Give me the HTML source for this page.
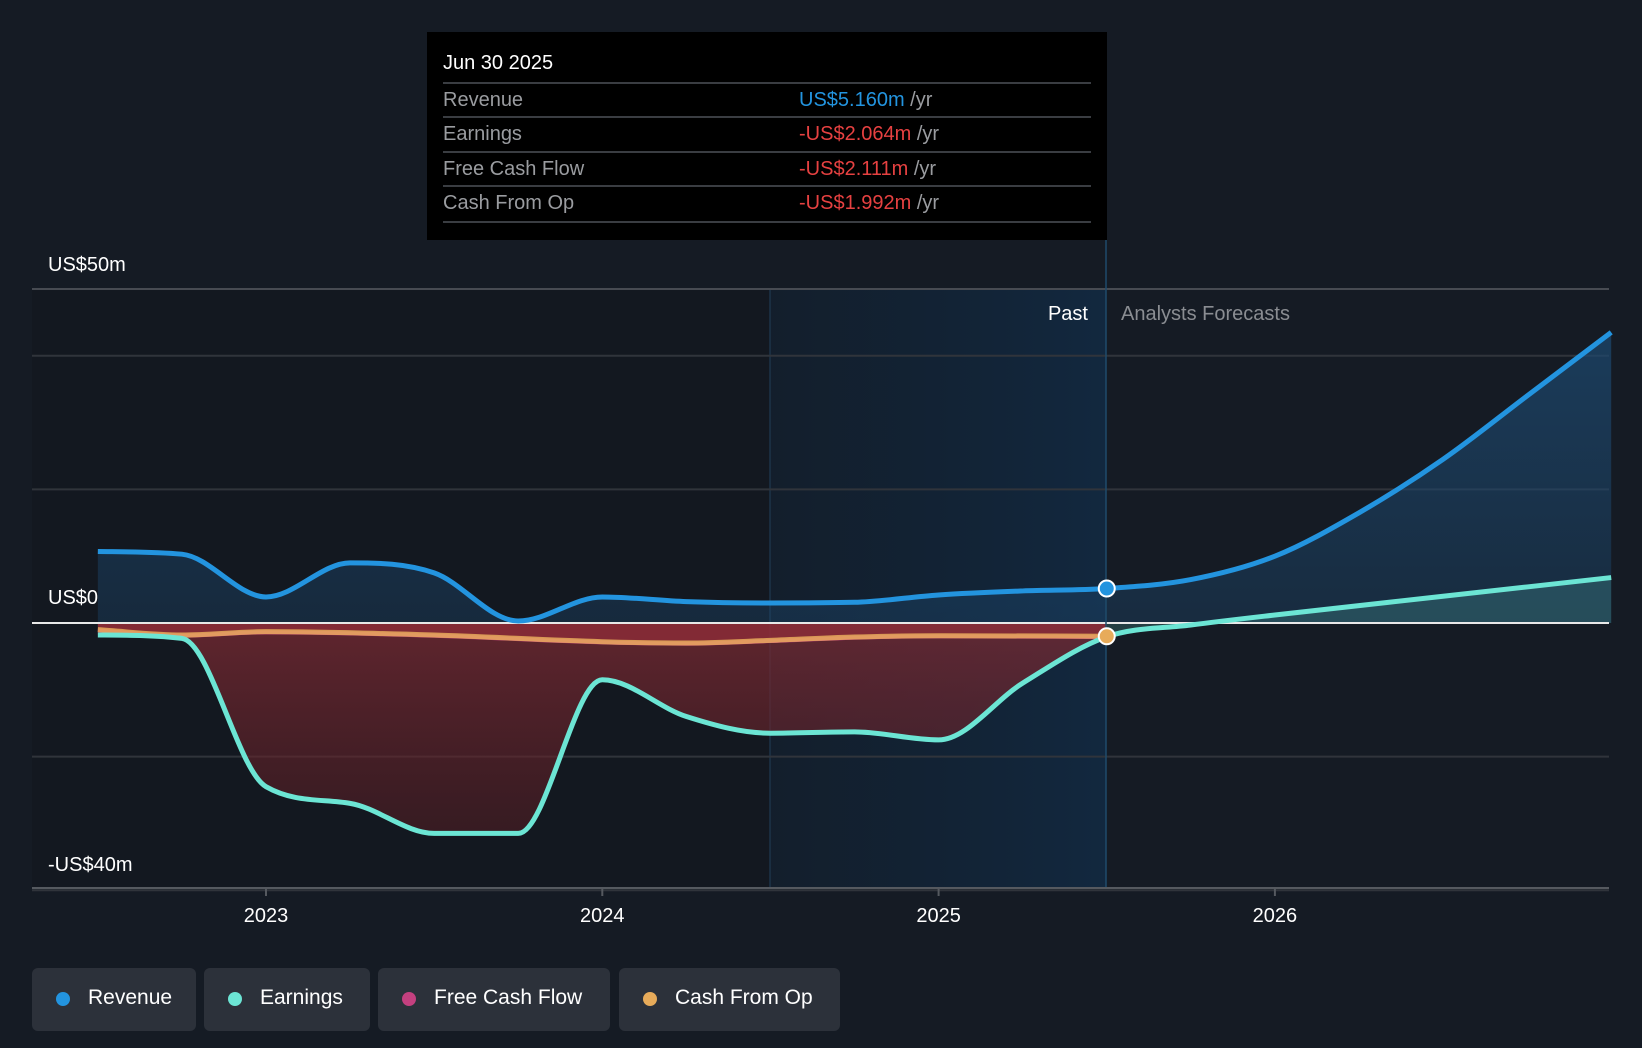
<!DOCTYPE html>
<html><head><meta charset="utf-8">
<style>
body{margin:0;background:#151b24;width:1642px;height:1048px;overflow:hidden;font-family:"Liberation Sans",sans-serif;}
svg{position:absolute;left:0;top:0}
.tt{position:absolute;left:427px;top:32px;width:680px;height:208px;background:#000;}
.tt .h{position:absolute;left:16px;top:20px;color:#fff;font-size:20px}
.row{position:absolute;left:16px;width:648px;height:34px;border-top:2px solid #3a3d42;font-size:20px;color:#9a9ca0;line-height:32px}
.row .v{position:absolute;left:356px;top:0}
.leg{position:absolute;top:968px;height:63px;background:#2c313a;border-radius:6px;color:#fff;font-size:21px;line-height:60px}
.leg i{position:absolute;left:24px;top:24px;width:14px;height:14px;border-radius:50%}
.leg span{position:absolute;left:56px}
</style></head><body>
<svg id="c" width="1642" height="1048"></svg>
<div class="tt">
<div class="h">Jun 30 2025</div>
<div class="row" style="top:50px">Revenue<span class="v"><b style="font-weight:normal;color:#2394df">US$5.160m</b> /yr</span></div>
<div class="row" style="top:84px">Earnings<span class="v"><b style="font-weight:normal;color:#e64141">-US$2.064m</b> /yr</span></div>
<div class="row" style="top:119px">Free Cash Flow<span class="v"><b style="font-weight:normal;color:#e64141">-US$2.111m</b> /yr</span></div>
<div class="row" style="top:153px;height:34px;border-bottom:2px solid #3a3d42">Cash From Op<span class="v"><b style="font-weight:normal;color:#e64141">-US$1.992m</b> /yr</span></div>
</div>
<div class="leg" style="left:32px;width:164px"><i style="background:#2394df"></i><span>Revenue</span></div>
<div class="leg" style="left:204px;width:166px"><i style="background:#6ce5d4"></i><span>Earnings</span></div>
<div class="leg" style="left:378px;width:232px"><i style="background:#c4407f"></i><span>Free Cash Flow</span></div>
<div class="leg" style="left:619px;width:221px"><i style="background:#e7ab5a"></i><span>Cash From Op</span></div>
<script>
const revT=[2022.5,2022.75,2023.0,2023.25,2023.5,2023.75,2024.0,2024.25,2024.5,2024.75,2025.0,2025.25,2025.5,2025.75,2026.0,2026.25,2026.5,2026.75,2027.0];
const revV=[10.7,10.3,3.9,9.0,7.5,0.3,3.9,3.2,3.0,3.1,4.2,4.8,5.16,6.5,10.0,16.5,24.5,34,43.5];
const earnT=[2022.5,2022.75,2023.0,2023.25,2023.5,2023.75,2024.0,2024.25,2024.5,2024.75,2025.0,2025.25,2025.5,2025.75,2026.0,2026.5,2027.0];
const earnV=[-1.8,-2.3,-24.5,-27,-31.5,-31.5,-8.5,-14,-16.5,-16.3,-17.5,-9,-2.06,-0.3,1.2,4.0,6.8];
const cfoT=[2022.5,2022.75,2023.0,2023.5,2024.0,2024.25,2024.5,2024.75,2025.0,2025.5];
const cfoV=[-1.0,-1.8,-1.3,-1.8,-2.8,-3.0,-2.6,-2.1,-1.9,-1.99];
const fcfV=[-1.1,-1.9,-1.4,-1.9,-2.9,-3.1,-2.7,-2.2,-2.0,-2.11];
const yTicks=[50,40,20,0,-20,-40];
const xTicks=[2023,2024,2025,2026];
const X=t=>266+(t-2023)*336.3, Y=v=>623-v*6.68;
const svg=document.getElementById('c'),NS='http://www.w3.org/2000/svg';
function mk(tag,a,p){const e=document.createElementNS(NS,tag);for(const k in a)e.setAttribute(k,a[k]);(p||svg).appendChild(e);return e;}
function path(T,V){
  const xs=T.map(X),ys=V.map(Y),n=xs.length;
  const d=[],m=[];
  for(let i=0;i<n-1;i++)d.push((ys[i+1]-ys[i])/(xs[i+1]-xs[i]));
  m[0]=d[0];m[n-1]=d[n-2];
  for(let i=1;i<n-1;i++){m[i]=(d[i-1]*d[i]<=0)?0:(d[i-1]+d[i])/2;}
  for(let i=0;i<n-1;i++){if(d[i]===0){m[i]=0;m[i+1]=0;continue;}const a=m[i]/d[i],b=m[i+1]/d[i],s=a*a+b*b;if(s>9){const t=3/Math.sqrt(s);m[i]=t*a*d[i];m[i+1]=t*b*d[i];}}
  let p='M'+xs[0]+','+ys[0];
  for(let i=0;i<n-1;i++){const h=(xs[i+1]-xs[i])/3;p+='C'+(xs[i]+h)+','+(ys[i]+m[i]*h)+' '+(xs[i+1]-h)+','+(ys[i+1]-m[i+1]*h)+' '+xs[i+1]+','+ys[i+1];}
  return p;}
const defs=mk('defs',{});
defs.innerHTML='<linearGradient id="past" x1="0" x2="1"><stop offset="0" stop-color="#112234" stop-opacity=".5"/><stop offset="1" stop-color="#12283f"/></linearGradient><linearGradient id="rf" x1="0" y1="0" x2="0" y2="1"><stop offset="0" stop-color="#1d4a72" stop-opacity=".7"/><stop offset="1" stop-color="#1d4a72" stop-opacity=".35"/></linearGradient><linearGradient id="ef" x1="0" y1="0" x2="0" y2="1"><stop offset="0" stop-color="#7a2a33" stop-opacity=".75"/><stop offset="1" stop-color="#5a1e24" stop-opacity=".5"/></linearGradient>';
let g;
g=mk('rect',{x:32,y:289,width:738,height:599,fill:'#131820'});

g=mk('rect',{x:770,y:289,width:336,height:599,fill:'url(#past)'});

mk('line',{x1:770,y1:289,x2:770,y2:888,stroke:'#1d3348','stroke-width':1.5});
yTicks.forEach(v=>{if(v===0)return;const l=mk('line',{x1:32,x2:1609,y1:Y(v),y2:Y(v),stroke:v===50?'#474b52':'#30343b','stroke-width':2});});
g=mk('path',{d:path(revT,revV)+`L${X(revT[revT.length-1])},${Y(0)}L${X(revT[0])},${Y(0)}Z`,fill:'url(#rf)'});

const past=earnT.filter(t=>t<=2025.5).length;
g=mk('path',{d:path(earnT.slice(0,past),earnV.slice(0,past))+`L${X(2025.5)},${Y(0)}L${X(earnT[0])},${Y(0)}Z`,fill:'url(#ef)'});

g=mk('path',{d:path(earnT.slice(past-1),earnV.slice(past-1))+`L${X(earnT[earnT.length-1])},${Y(0)}L${X(2025.5)},${Y(0)}Z`,fill:'#6ce5d4','fill-opacity':.18});

g=mk('path',{d:path(cfoT,fcfV)+`L${X(2025.5)},${Y(0)}L${X(cfoT[0])},${Y(0)}Z`,fill:'#9b2e3a','fill-opacity':.6});

mk('line',{x1:32,x2:1609,y1:Y(0),y2:Y(0),stroke:'#e8e8e8','stroke-width':2});
g=mk('line',{x1:1106,x2:1106,y1:240,y2:888,stroke:'#1f4b6b','stroke-width':1.5});

g=mk('path',{d:path(cfoT,fcfV),fill:'none',stroke:'#c4407f','stroke-width':4});

g=mk('path',{d:path(cfoT,cfoV),fill:'none',stroke:'#e7ab5a','stroke-width':5,'stroke-opacity':.85});

g=mk('path',{d:path(earnT,earnV),fill:'none',stroke:'#6ce5d4','stroke-width':5});

g=mk('path',{d:path(revT,revV),fill:'none',stroke:'#2394df','stroke-width':5});

g=mk('circle',{cx:X(2025.5),cy:Y(revV[12]),r:8,fill:'#2394df',stroke:'#fff','stroke-width':2});

g=mk('circle',{cx:X(2025.5),cy:Y(cfoV[cfoV.length-1]),r:8,fill:'#e7ab5a',stroke:'#fff','stroke-width':2});

mk('line',{x1:32,x2:1609,y1:888,y2:888,stroke:'#55595f','stroke-width':2});
xTicks.forEach(t=>{mk('line',{x1:X(t),x2:X(t),y1:888,y2:896,stroke:'#55595f','stroke-width':2});const e=mk('text',{x:X(t),y:922,fill:'#fff','font-size':20,'text-anchor':'middle'});e.textContent=t;});
[[50,'US$50m',271],[0,'US$0',604],[-40,'-US$40m',871]].forEach(a=>{const e=mk('text',{x:48,y:a[2],fill:'#fff','font-size':20});e.textContent=a[1];});
g=mk('text',{x:1088,y:320,fill:'#fff','font-size':20,'text-anchor':'end'});g.textContent='Past';

g=mk('text',{x:1121,y:320,fill:'#8a8d92','font-size':20});g.textContent='Analysts Forecasts';

</script>
</body></html>
